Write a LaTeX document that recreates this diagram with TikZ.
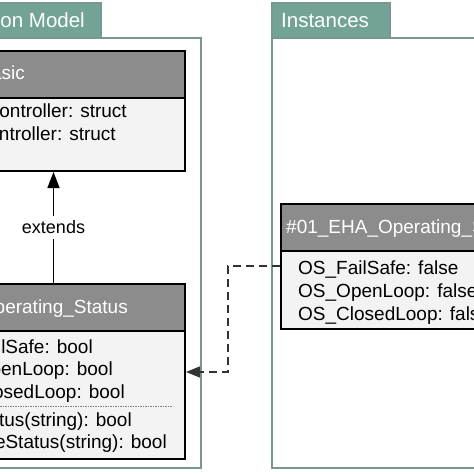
\documentclass[tikz,border=0pt]{standalone}
\usepackage{fontspec}
\setmainfont{Liberation Sans}
\usetikzlibrary{arrows.meta}
\definecolor{tabfill}{HTML}{72A396}
\definecolor{framecol}{HTML}{789791}
\definecolor{hdrfill}{HTML}{8C8C8C}
\definecolor{bodyfill}{HTML}{F3F3F3}
\definecolor{dashcol}{HTML}{333333}
\tikzset{
  pkgframe/.style={draw=framecol, line width=1.5pt, fill=white},
  pkgtab/.style={draw=framecol, line width=1.5pt, fill=tabfill},
  tabtext/.style={inner sep=0pt, text=white, font=\fontsize{20.5}{24}\selectfont},
  hdr/.style={draw=black, line width=2pt, fill=hdrfill, inner sep=0pt, anchor=north west},
  body/.style={draw=black, line width=2pt, fill=bodyfill, inner sep=0pt, anchor=north west},
  titletext/.style={inner sep=0pt, text=white, font=\fontsize{19}{23}\selectfont},
  attrtext/.style={inner sep=0pt, text=black, font=\fontsize{19}{23}\selectfont},
  lbltext/.style={fill=white, inner xsep=2pt, inner ysep=5pt, font=\fontsize{18}{22}\selectfont},
  inherit/.style={draw=black, line width=1.5pt, -{Triangle[length=16pt,width=12pt]}},
  instof/.style={draw=dashcol, line width=1.5pt, dash pattern=on 8pt off 5pt, -{Triangle[length=14pt,width=11pt]}},
  sepline/.style={draw=gray, line width=1pt, dash pattern=on 1.5pt off 1pt}
}
\begin{document}
\begin{tikzpicture}[x=1pt,y=-1pt]
\useasboundingbox (0,0) rectangle (474,474);
\clip (0,0) rectangle (474,474);
\fill[white] (0,0) rectangle (474,474);
% packages
\draw[pkgframe] (-150,38) rectangle (201,468);
\draw[pkgtab] (-150,3) rectangle (101,38);
\node[tabtext, anchor=base east] (ltab) at (85,27) {Information Model};
\draw[pkgframe] (272,38) rectangle (600,468);
\draw[pkgtab] (272,3) rectangle (390,38);
\node[tabtext, anchor=base west] (rtab) at (281,27) {Instances};
% EHA_Basic
\node[hdr, minimum width=263, minimum height=47] (basicH) at (-79,50) {};
\node[body, minimum width=263, minimum height=73] (basicB) at (-79,97) {};
\node[titletext, anchor=base east] (basicT) at (25,79) {EHA\_Basic};
\node[attrtext, anchor=base east] (basicA1) at (127,117) {force\_controller: struct};
\node[attrtext, anchor=base east] (basicA2) at (116,140) {pos\_controller: struct};
% EHA_Operating_Status
\node[hdr, minimum width=263, minimum height=47] (opH) at (-79,283) {};
\node[body, minimum width=263, minimum height=128] (opB) at (-79,330) {};
\node[titletext, anchor=base east] (opT) at (128,313) {EHA\_Operating\_Status};
\node[attrtext, anchor=base east] (opA1) at (93,353) {OS\_FailSafe: bool};
\node[attrtext, anchor=base east] (opA2) at (113,375) {OS\_OpenLoop: bool};
\node[attrtext, anchor=base east] (opA3) at (125,398) {OS\_ClosedLoop: bool};
\draw[sepline] (-70,406) -- (172,406);
\node[attrtext, anchor=base east] (opM1) at (132,426) {getStatus(string): bool};
\node[attrtext, anchor=base east] (opM2) at (167,448) {validateStatus(string): bool};
% instance
\node[hdr, minimum width=260, minimum height=47] (instH) at (280,203) {};
\node[body, minimum width=260, minimum height=78] (instB) at (280,250) {};
\node[titletext, anchor=base west] (instT) at (286,233) {\#01\_EHA\_Operating\_Status};
\node[attrtext, anchor=base west] (instA1) at (298,274) {OS\_FailSafe: false};
\node[attrtext, anchor=base west] (instA2) at (298,297) {OS\_OpenLoop: false};
\node[attrtext, anchor=base west] (instA3) at (298,320) {OS\_ClosedLoop: false};
% connectors
\draw[inherit] (opH.north) -- node[lbltext] (ext) {extends} (basicB.south);
\draw[instof] ([yshift=-16pt]instB.north west) -- ++(-52,0) |- ([yshift=23pt]opB.east);
\end{tikzpicture}
\end{document}
